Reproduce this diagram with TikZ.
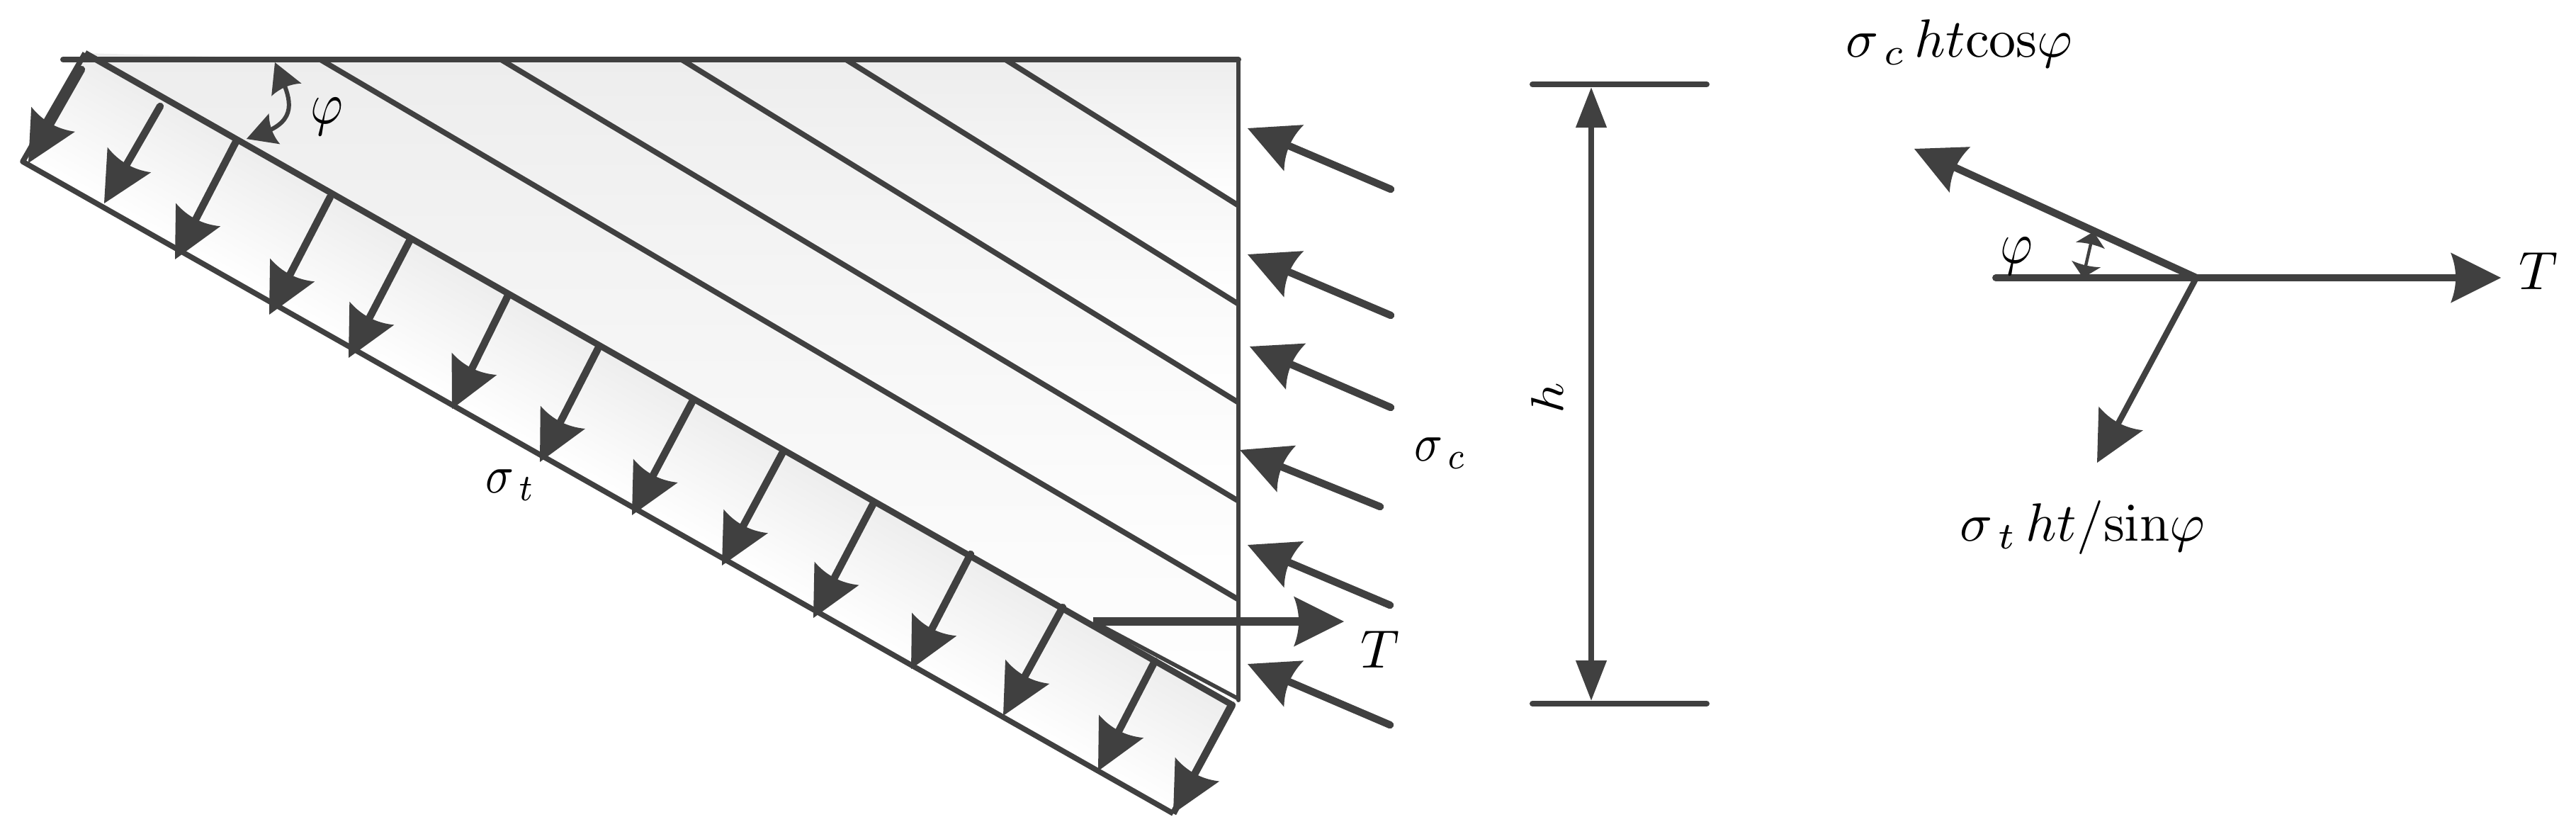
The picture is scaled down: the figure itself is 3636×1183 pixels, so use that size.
\documentclass[tikz,border=0pt]{standalone}
\usetikzlibrary{arrows.meta}
\definecolor{ink}{HTML}{404040}
\definecolor{shadegray}{HTML}{EDEDED}
\pgfdeclarearrow{
  name=Force,
  defaults={length=17.75pt,width=17.75pt},
  setup code={
    \pgfarrowssettipend{\pgfarrowlength}
    \pgfarrowssetbackend{0pt}
    \pgfarrowssetlineend{.4\pgfarrowlength}
    \pgfarrowssetvisualbackend{.1\pgfarrowlength}
    \pgfarrowssavethe\pgfarrowlength
    \pgfarrowssavethe\pgfarrowwidth
  },
  drawing code={
    \pgfpathmoveto{\pgfqpoint{\pgfarrowlength}{0pt}}
    \pgfpathlineto{\pgfqpoint{0pt}{.5\pgfarrowwidth}}
    \pgfpathquadraticcurveto{\pgfqpoint{.2\pgfarrowlength}{0pt}}{\pgfqpoint{0pt}{-.5\pgfarrowwidth}}
    \pgfpathclose
    \pgfusepathqfill
  },
  parameters={\the\pgfarrowlength,\the\pgfarrowwidth},
}
\tikzset{
  ink line/.style={draw=ink,color=ink,line width=2pt},
  thin rule/.style={draw=ink,color=ink,line width=1.9pt},
  force/.style={draw=ink,color=ink,line width=2.6pt,line cap=round,-{Force}},
  small force/.style={draw=ink,color=ink,line width=1.9pt,-{Force}},
  pull force/.style={draw=ink,color=ink,line width=3pt,-{Force}},
  angle mark/.style={draw=ink,color=ink,line width=1.5pt,{Force[length=10.5pt,width=11.5pt]}-{Force[length=10.5pt,width=11.5pt]}},
  tiny angle/.style={draw=ink,color=ink,line width=1.1pt,{Force[length=5pt,width=10.5pt]}-{Force[length=5pt,width=10.5pt]}},
  dimen/.style={draw=ink,color=ink,line width=1.9pt,{Triangle[length=14.25pt,width=10.5pt]}-{Triangle[length=14.25pt,width=10.5pt]}},
  lab/.style={inner sep=0pt,text=black,scale=1.9},
  sigma lab/.style={inner sep=0pt,text=black,xscale=1.65,yscale=1.9},
  bigphi/.style={inner sep=0pt,text=black,xscale=1.75,yscale=2.1},
  band/.style={top color=shadegray,bottom color=white,draw=none},
}
\begin{document}
\begin{tikzpicture}[x=0.25pt,y=-0.25pt]
\useasboundingbox (0,0) rectangle (3636,1183);
% key points
\coordinate (A) at (120,75);
\coordinate (B) at (1738,994);
\coordinate (C) at (1656,1148);
\coordinate (D) at (32,228);
\coordinate (TL) at (89,84);
\coordinate (TR) at (1748,84);
\coordinate (BR) at (1748,988);
\foreach \n/\xa/\yb in {1/1419/290,2/1194/429,3/962/568,4/707/707,5/452/846}{
  \coordinate (p\n) at (\xa,84);
  \coordinate (q\n) at (1748,\yb);
}
% shading
\shade[band] (p1) -- (TR) -- (q1) -- cycle;
\shade[band] (p2) -- (p1) -- (q1) -- (q2) -- cycle;
\shade[band] (p3) -- (p2) -- (q2) -- (q3) -- cycle;
\shade[band] (p4) -- (p3) -- (q3) -- (q4) -- cycle;
\shade[band] (p5) -- (p4) -- (q4) -- (q5) -- cycle;
\shade[band] (A) -- (p5) -- (q5) -- (BR) -- (B) -- cycle;
\begin{scope}[transform canvas={shift={(120,75)},rotate=-29.6}]
\shade[top color=shadegray,middle color=white,bottom color=white,draw=none] (0,0) rectangle (1861,176.5);
\end{scope}
% frame
\draw[ink line,line cap=round] (TL) -- (TR);
\draw[ink line,line cap=round,line width=1.5pt] (TR) -- (BR);
\foreach \n in {1,...,5}{\draw[thin rule] (p\n) -- (q\n);}
\draw[ink line,line width=2.2pt] (A) -- (B);
\draw[thin rule,line join=round] (A) -- (D) -- (C);
\draw[ink line,line width=2.3pt] (B) -- (C);
% tensile stress arrows
\foreach \n/\sx/\sy/\tx/\ty in {
  1/115/98/40/230,
  2/226/150/147/287,
  3/333/200/247/366,
  4/466/278/380/444,
  5/579/338/492/505,
  6/717/417/638/577,
  7/844/492/762/652,
  8/977/567/892/727,
  9/1105/638/1019/798,
  10/1233/710/1148/872,
  11/1370/782/1286/944,
  12/1500/857/1416/1010,
  13/1630/933/1550/1088,
  14/1739/995/1656/1148}{
  \coordinate (s\n) at (\sx,\sy);
  \coordinate (e\n) at (\tx,\ty);
  \draw[force] (s\n) -- (e\n);
}
% compressive stress arrows
\foreach \n/\sx/\sy/\tx/\ty in {
  1/1963/267/1761/181,
  2/1963/445/1761/359,
  3/1963/575/1764/489,
  4/1948/715/1750/635,
  5/1962/854/1761/769,
  6/1962/1023/1761/937}{
  \coordinate (cs\n) at (\sx,\sy);
  \coordinate (ce\n) at (\tx,\ty);
  \draw[force] (cs\n) -- (ce\n);
}
% T on the section
\coordinate (Ts) at (1543,877);
\coordinate (Te) at (1897,877);
\draw[pull force] (Ts) -- (Te);
\coordinate (Tb) at (1746,985);
\draw[ink line,line width=1.4pt] (Ts) -- (Tb);
% angle mark
\coordinate (ang1) at (388,88);
\coordinate (ang2) at (348,196);
\draw[angle mark] (ang1) .. controls (410,140) and (420,170) .. (ang2);
% dimension h
\coordinate (h1a) at (2163,119);
\coordinate (h1b) at (2409,119);
\coordinate (h2a) at (2163,993);
\coordinate (h2b) at (2409,993);
\coordinate (hu) at (2246,123);
\coordinate (hd) at (2246,989);
\draw[ink line,line cap=round] (h1a) -- (h1b);
\draw[ink line,line cap=round] (h2a) -- (h2b);
\draw[dimen] (hu) -- (hd);
% force triangle
\coordinate (O) at (3100,392);
\coordinate (Ol) at (2817,392);
\coordinate (Or) at (3530,392);
\coordinate (Ou) at (2702,210);
\coordinate (Od) at (2960,653);
\coordinate (am) at (2955,327);
\coordinate (an) at (2940,392);
\draw[small force,line width=2.5pt] (O) -- (Or);
\draw[ink line,line width=2.5pt,line cap=round] (Ol) -- (O);
\draw[small force,line width=2.6pt] (O) -- (Ou);
\draw[small force,line width=2.1pt] (O) -- (Od);
\draw[tiny angle] (am) -- (an);
% labels
\node[bigphi] (phiA) at (461,165) {$\varphi$};
\node[sigma lab,anchor=base west] (sigt) at (684,695) {$\sigma_{\,t}$};
\node[sigma lab,anchor=base west] (sigc) at (1995,650) {$\sigma_{\,c}$};
\node[lab] (Tlab) at (1948,916) {$T$};
\node[lab,xscale=0.85,rotate=90,anchor=base] (hlab) at (2206,562) {$h$};
\node[bigphi] (phiB) at (2846,362) {$\varphi$};
\node[lab] (T2lab) at (3583,383) {$T$};
\node[lab,anchor=base west] (fc) at (2604,80) {$\sigma_{\,c}\,ht\mathrm{cos}\varphi$};
\node[lab,anchor=base west] (ft) at (2765,763) {$\sigma_{\,t}\,ht/\mathrm{sin}\varphi$};
\end{tikzpicture}
\end{document}
